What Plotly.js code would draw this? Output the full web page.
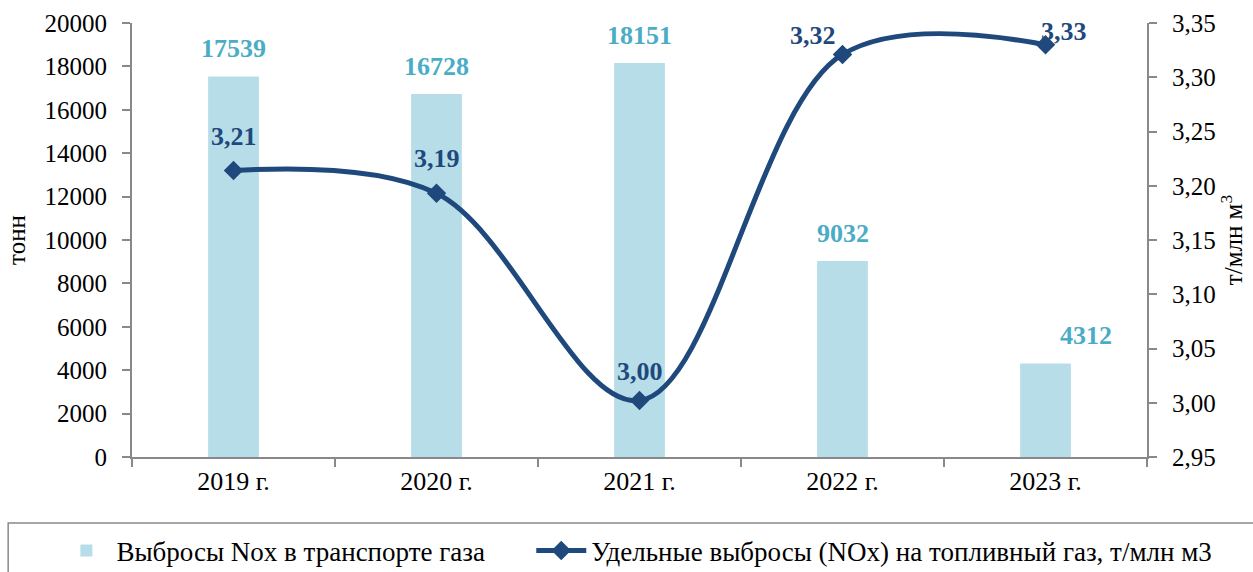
<!DOCTYPE html>
<html><head><meta charset="utf-8">
<script src="https://cdn.plot.ly/plotly-3.0.1.min.js"></script>
<style>body{margin:0;background:#fff}#chart{width:1253px;height:572px}</style>
</head><body><div id="chart"></div>
<script>
const years = ["2019 г.", "2020 г.", "2021 г.", "2022 г.", "2023 г."];
const emissions = [17539, 16728, 18151, 9032, 4312];
const specific = [3.214, 3.193, 3.002, 3.321, 3.330];
const leftTicks = [0, 2000, 4000, 6000, 8000, 10000, 12000, 14000, 16000, 18000, 20000];
const rightTicks = [2.95, 3.00, 3.05, 3.10, 3.15, 3.20, 3.25, 3.30, 3.35];
const barName = "Выбросы Nox в транспорте газа";
const lineName = "Удельные выбросы (NOx) на топливный газ, т/млн м3";

const fmt2 = v => v.toFixed(2).replace('.', ',');
const font = "Liberation Serif";
const lineColor = "#1F497D";
const barLabelColor = "#4BACC6";

// label offsets (px)
const barLabelShift = [[0,28],[0,28],[0,28],[0,28],[40,28]];
const lineLabelShift = [[0,34],[0,35],[0,29],[-30,19],[18,13]];

const annotations = [];
emissions.forEach((v,i)=>annotations.push({
  x: years[i], y: v, xref:'x', yref:'y', text: String(v), showarrow:false,
  xshift: barLabelShift[i][0], yshift: barLabelShift[i][1],
  font:{family:font, size:26, color:barLabelColor, weight:'bold'}
}));
specific.forEach((v,i)=>annotations.push({
  x: years[i], y: v, xref:'x', yref:'y2', text: fmt2(v), showarrow:false,
  xshift: lineLabelShift[i][0], yshift: lineLabelShift[i][1],
  font:{family:font, size:26, color:lineColor, weight:'bold'}
}));

const traces = [
  {type:'bar', x: years, y: emissions, name: barName, marker:{color:'#B7DDE8'}, width:0.25,
   hoverinfo:'skip', legend:'legend'},
  {type:'scatter', mode:'lines+markers', x: years, y: specific, yaxis:'y2', name: lineName,
   line:{color:lineColor, width:5, shape:'spline', smoothing:1},
   marker:{symbol:'diamond', size:15, color:lineColor}, hoverinfo:'skip', legend:'legend2'}
];

const legendBase = {orientation:'h', xref:'container', yref:'container', y:0.037,
    xanchor:'left', yanchor:'middle', font:{size:27, family:font},
    bgcolor:'rgba(0,0,0,0)', borderwidth:0, itemwidth:50};

const layout = {
  width:1253, height:572,
  margin:{l:132, r:106, t:23, b:115},
  paper_bgcolor:'#fff', plot_bgcolor:'#fff',
  font:{family:font, size:24, color:'#000'},
  separators:',',
  showlegend:true,
  xaxis:{type:'category', showline:true, linecolor:'#898989', linewidth:2,
    ticks:'outside', tickson:'boundaries', ticklen:8, tickcolor:'#898989', tickwidth:2,
    showgrid:false, tickfont:{size:26, family:font}, zeroline:false},
  yaxis:{range:[0,20000], tickvals:leftTicks, ticktext:leftTicks.map(String),
    showline:true, linecolor:'#898989', linewidth:2, ticks:'outside', ticklen:8,
    tickcolor:'#898989', tickwidth:2, showgrid:false, zeroline:false,
    tickfont:{size:25, family:font}, ticklabelstandoff:10,
    title:{text:'тонн', font:{size:25, family:font}, standoff:12}},
  yaxis2:{range:[2.95,3.35], overlaying:'y', side:'right', tickvals:rightTicks,
    ticktext:rightTicks.map(fmt2), showline:true, linecolor:'#898989', linewidth:2,
    ticks:'outside', ticklen:8, tickcolor:'#898989', tickwidth:2, showgrid:false, zeroline:false,
    tickfont:{size:25, family:font}, ticklabelstandoff:10,
    title:{text:'т/млн м<sup>3</sup>', font:{size:25, family:font}, standoff:8}},
  legend: Object.assign({}, legendBase, {x:0.045}),
  legend2: Object.assign({}, legendBase, {x:0.424}),
  shapes:[{type:'rect', xref:'paper', yref:'paper', x0:-0.122, x1:1.12, y0:-0.152, y1:-0.28,
    line:{color:'#898989', width:1.5}, fillcolor:'rgba(0,0,0,0)', layer:'below'}],
  annotations: annotations
};

Plotly.newPlot('chart', traces, layout, {displayModeBar:false, staticPlot:true});
</script></body></html>
